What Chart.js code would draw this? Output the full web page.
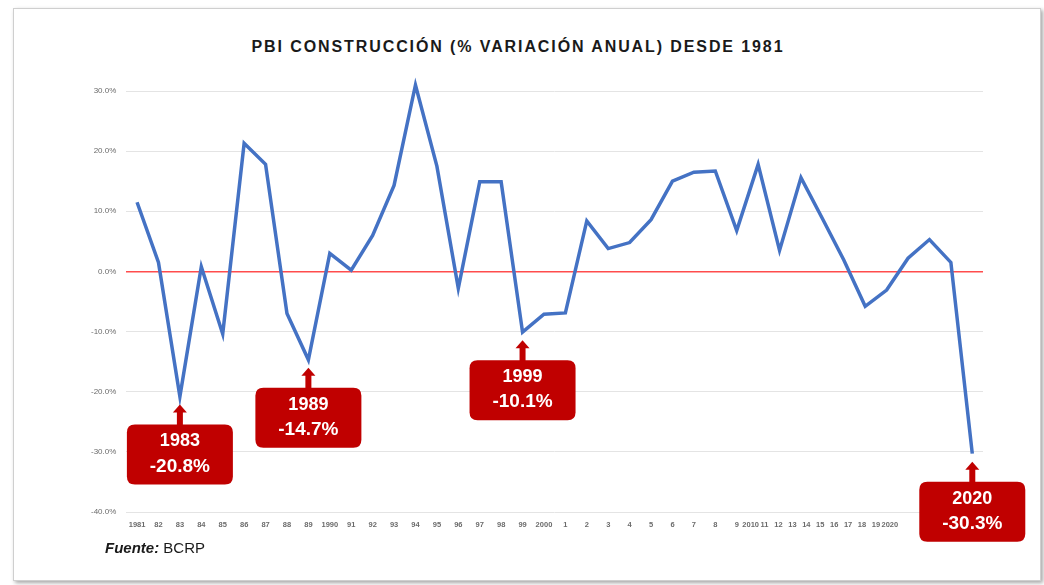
<!DOCTYPE html>
<html>
<head>
<meta charset="utf-8">
<script src="https://cdn.jsdelivr.net/npm/chart.js@4"></script>
<style>
  html, body { margin: 0; padding: 0; background: #fff; }
  body { width: 1044px; height: 585px; position: relative; overflow: hidden; font-family: "Liberation Sans", Arial, sans-serif; }
  #card { position: absolute; left: 13px; top: 8px; width: 1026px; height: 571px; border: 1px solid #cfcfcf; box-shadow: 2px 2px 4px rgba(0,0,0,0.35); background: #fff; }
  #title { position: absolute; left: 0; width: 1036px; top: 38px; text-align: center; font-weight: bold; font-size: 16px; letter-spacing: 1.9px; color: #1a1a1a; }
  #fuente { position: absolute; left: 105px; top: 539px; font-size: 15px; color: #1a1a1a; }
  #wrap { position: absolute; left: 0; top: 0; width: 1044px; height: 585px; }
</style>
</head>
<body>
<div id="card"></div>
<div id="title">PBI CONSTRUCCIÓN (% VARIACIÓN ANUAL) DESDE 1981</div>
<div id="wrap"><canvas id="grafico"></canvas></div>
<div id="fuente"><b><i>Fuente:</i></b> BCRP</div>
<script>
// años y etiquetas del eje
const years = [1981,1982,1983,1984,1985,1986,1987,1988,1989,1990,1991,1992,1993,1994,1995,1996,1997,1998,1999,2000,
               2001,2002,2003,2004,2005,2006,2007,2008,2009,2010,2011,2012,2013,2014,2015,2016,2017,2018,2019,2020];
const tickLabels = ['1981','82','83','84','85','86','87','88','89','1990','91','92','93','94','95','96','97','98','99','2000',
                    '1','2','3','4','5','6','7','8','9','2010','11','12','13','14','15','16','17','18','19','2020'];
// variación anual (%)
const pbiConstruccion = [11.5,1.5,-20.8,0.8,-10.4,21.3,17.8,-7.0,-14.7,3.0,0.2,6.0,14.3,31.0,17.5,-2.8,14.9,14.9,-10.1,-7.1,
                         -6.9,8.4,3.8,4.8,8.6,15.0,16.5,16.7,6.8,17.8,3.5,15.6,8.8,1.9,-5.8,-3.1,2.2,5.3,1.5,-30.3];
const yTicks = [30,20,10,0,-10,-20,-30,-40];
// años destacados con recuadro
const destacados = [1983,1989,1999,2020];

const rojo = '#c00000';

// en el original las etiquetas desde 2009 quedan más juntas
function posEtiqueta(i) {
  return i <= 28 ? i : 28 + (i - 28) * 0.65;
}

function roundRect(ctx, x, y, w, h, r) {
  ctx.beginPath();
  ctx.moveTo(x + r, y);
  ctx.lineTo(x + w - r, y);
  ctx.quadraticCurveTo(x + w, y, x + w, y + r);
  ctx.lineTo(x + w, y + h - r);
  ctx.quadraticCurveTo(x + w, y + h, x + w - r, y + h);
  ctx.lineTo(x + r, y + h);
  ctx.quadraticCurveTo(x, y + h, x, y + h - r);
  ctx.lineTo(x, y + r);
  ctx.quadraticCurveTo(x, y, x + r, y);
  ctx.closePath();
}

// recuadros rojos con flecha
const recuadros = {
  id: 'recuadros',
  afterDraw(chart) {
    const ctx = chart.ctx;
    const meta = chart.getDatasetMeta(0);
    destacados.forEach(a => {
      const i = years.indexOf(a);
      const pt = meta.data[i];
      const px = pt.x, py = pt.y;
      const w = 106, h = 60, top = py + 28;
      ctx.save();
      ctx.fillStyle = rojo;
      // flecha
      ctx.fillRect(px - 3, py + 15, 6, top - (py + 15) + 2);
      ctx.beginPath();
      ctx.moveTo(px, py + 8);
      ctx.lineTo(px - 7, py + 16);
      ctx.lineTo(px + 7, py + 16);
      ctx.closePath();
      ctx.fill();
      roundRect(ctx, px - w / 2, top, w, h, 8);
      ctx.fill();
      ctx.fillStyle = '#fff';
      ctx.textAlign = 'center';
      ctx.textBaseline = 'middle';
      ctx.font = 'bold 18px "Liberation Sans", Arial, sans-serif';
      ctx.fillText(String(a), px, top + 17);
      ctx.font = 'bold 19px "Liberation Sans", Arial, sans-serif';
      ctx.fillText(pbiConstruccion[i].toFixed(1) + '%', px, top + 42);
      ctx.restore();
    });
  }
};

const ctx = document.getElementById('grafico').getContext('2d');
new Chart(ctx, {
  type: 'line',
  data: {
    labels: tickLabels,
    datasets: [{
      label: 'PBI Construcción',
      data: pbiConstruccion,
      borderColor: '#4472c4',
      borderWidth: 3.5,
      pointRadius: 0,
      tension: 0,
      fill: false,
      clip: false
    }]
  },
  options: {
    responsive: true,
    maintainAspectRatio: false,
    animation: false,
    layout: { padding: { left: 81, right: 61, top: 91, bottom: 56 } },
    plugins: {
      legend: { display: false },
      title: { display: false },
      tooltip: { enabled: false }
    },
    scales: {
      x: {
        display: false,
        offset: true
      },
      xEtiquetas: {
        type: 'linear',
        position: 'bottom',
        min: -0.5, max: 39.5,
        afterBuildTicks: s => { s.ticks = tickLabels.map((t, i) => ({ value: posEtiqueta(i) })); },
        grid: { display: false },
        border: { display: false },
        ticks: {
          autoSkip: false, maxRotation: 0, minRotation: 0,
          color: '#6b6b6b', padding: 0,
          font: { family: '"Liberation Sans", Arial, sans-serif', size: 7.5, weight: 'bold' },
          callback: (v, i) => tickLabels[i]
        }
      },
      y: {
        min: -40, max: 30,
        afterBuildTicks: s => { s.ticks = yTicks.map(v => ({ value: v })); },
        border: { display: false },
        grid: {
          color: c => c.tick && c.tick.value === 0 ? '#ff4d4d' : '#e4e4e4',
          lineWidth: c => c.tick && c.tick.value === 0 ? 1.5 : 1,
          drawTicks: false
        },
        ticks: {
          color: '#6b6b6b', padding: 10,
          font: { family: '"Liberation Sans", Arial, sans-serif', size: 8 },
          callback: v => v.toFixed(1) + '%'
        }
      }
    }
  },
  plugins: [recuadros]
});
</script>
</body>
</html>
